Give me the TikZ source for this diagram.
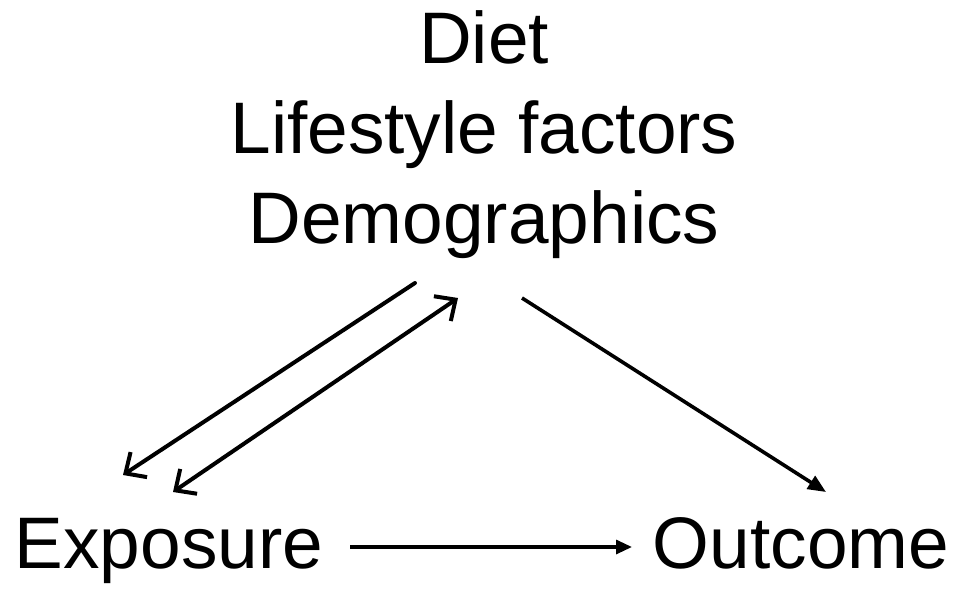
\documentclass[tikz,border=0pt]{standalone}
\usepackage{fontspec}
\setmainfont{Liberation Sans}
\usetikzlibrary{arrows.meta}
\begin{document}
\begin{tikzpicture}[x=1pt,y=-1pt,
  barbtip/.tip={Straight Barb[length=16pt,width=30pt]},
  lbl/.style={inner sep=0pt, font=\fontsize{73}{90}\selectfont, align=center},
  openarr/.style={line width=4pt, line cap=round, {barbtip}-},
  bothopen/.style={line width=4pt, line cap=round, {barbtip}-{barbtip}},
  filled/.style={line width=3.6pt, -{Triangle[length=18pt,width=15pt]}}]
\useasboundingbox (0,0) rectangle (959,589);
\node[lbl, anchor=base] (top) at (484,243) {Diet\\Lifestyle factors\\Demographics};
\node[lbl, anchor=base] (exp) at (169,568) {Exposure};
\node[lbl, anchor=base] (out) at (801,568) {Outcome};
\coordinate (a1) at (415,283);
\coordinate (a2) at (123,475);
\coordinate (b1) at (173,492);
\coordinate (b2) at (458,298);
\coordinate (c1) at (522,298);
\coordinate (c2) at (826,492);
\coordinate (h1) at (350,547);
\coordinate (h2) at (632,547);
\draw[openarr] (a2) -- (a1);
\draw[bothopen] (b1) -- (b2);
\draw[filled] (c1) -- (c2);
\draw[filled, line width=3.2pt, -{Triangle[length=16pt,width=14pt]}] (h1) -- (h2);
\end{tikzpicture}
\end{document}
